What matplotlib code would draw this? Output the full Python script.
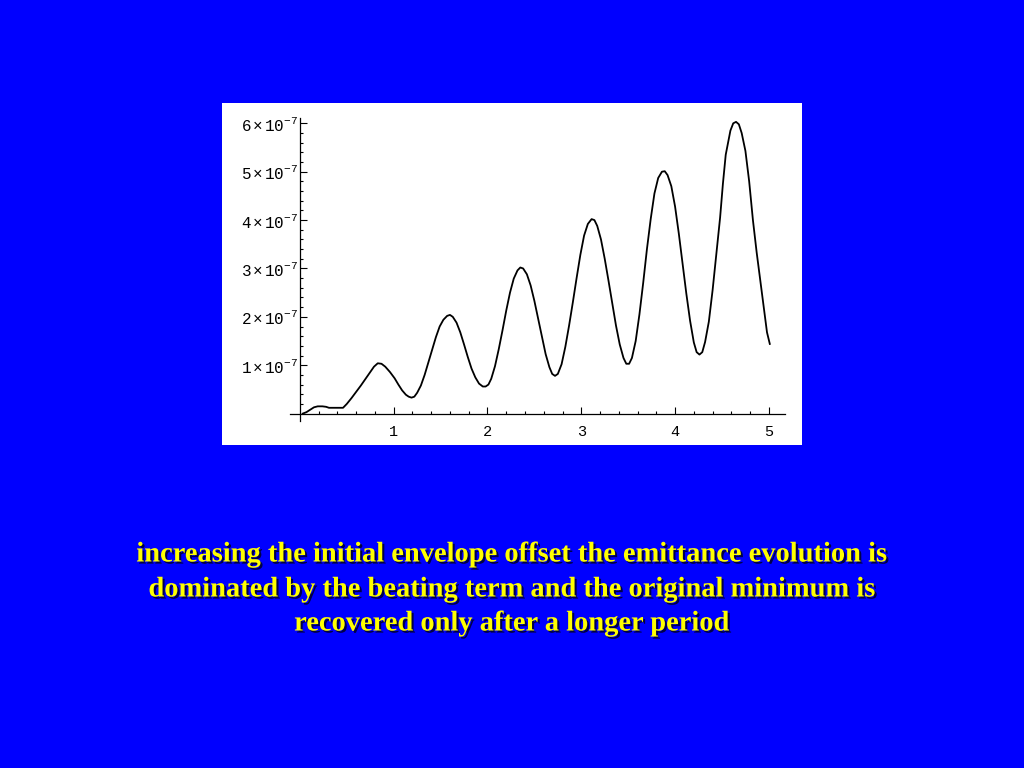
import matplotlib
matplotlib.use("Agg")
import matplotlib.pyplot as plt
import matplotlib.patheffects as pe
from matplotlib.patches import Rectangle
from matplotlib.ticker import FixedLocator, FuncFormatter

# emittance curve (y in units of 1e-7)
x = [0.03, 0.07, 0.11, 0.15, 0.19, 0.24, 0.28, 0.31, 0.46, 0.50, 0.55, 0.60,
     0.65, 0.70, 0.75, 0.79, 0.83, 0.87, 0.91, 0.96, 1.01, 1.05, 1.09, 1.13,
     1.16, 1.19, 1.22, 1.25, 1.29, 1.33, 1.37, 1.41, 1.45, 1.49, 1.53, 1.57,
     1.60, 1.63, 1.67, 1.71, 1.75, 1.79, 1.83, 1.87, 1.91, 1.95, 1.98, 2.01,
     2.04, 2.08, 2.12, 2.16, 2.20, 2.24, 2.28, 2.32, 2.35, 2.38, 2.42, 2.46,
     2.50, 2.54, 2.58, 2.62, 2.66, 2.69, 2.72, 2.75, 2.79, 2.83, 2.87, 2.91,
     2.95, 2.99, 3.03, 3.07, 3.11, 3.14, 3.17, 3.21, 3.25, 3.29, 3.33, 3.37,
     3.41, 3.45, 3.48, 3.51, 3.54, 3.58, 3.62, 3.66, 3.70, 3.74, 3.78, 3.82,
     3.86, 3.89, 3.92, 3.96, 4.00, 4.04, 4.08, 4.12, 4.16, 4.20, 4.23, 4.26,
     4.29, 4.32, 4.36, 4.40, 4.44, 4.48, 4.51, 4.54, 4.59, 4.62, 4.65, 4.68,
     4.71, 4.75, 4.79, 4.83, 4.87, 4.91, 4.95, 4.98, 5.01]
y_e7 = [0.00, 0.03, 0.08, 0.13, 0.15, 0.15, 0.14, 0.12, 0.12, 0.20, 0.32, 0.45,
        0.58, 0.72, 0.86, 0.97, 1.04, 1.03, 0.97, 0.86, 0.73, 0.60, 0.48, 0.39,
        0.35, 0.33, 0.35, 0.43, 0.58, 0.80, 1.06, 1.32, 1.58, 1.80, 1.94, 2.02,
        2.04, 2.00, 1.88, 1.68, 1.43, 1.17, 0.93, 0.75, 0.62, 0.56, 0.56, 0.60,
        0.72, 0.98, 1.33, 1.72, 2.13, 2.50, 2.79, 2.96, 3.02, 3.00, 2.88, 2.65,
        2.33, 1.96, 1.58, 1.23, 0.96, 0.82, 0.78, 0.82, 1.02, 1.38, 1.82, 2.30,
        2.80, 3.28, 3.68, 3.92, 4.02, 4.00, 3.88, 3.60, 3.20, 2.75, 2.28, 1.82,
        1.43, 1.15, 1.03, 1.03, 1.15, 1.50, 2.05, 2.70, 3.40, 4.02, 4.55, 4.87,
        5.00, 5.01, 4.93, 4.70, 4.28, 3.72, 3.10, 2.48, 1.92, 1.47, 1.27, 1.22,
        1.27, 1.48, 1.90, 2.55, 3.30, 4.05, 4.75, 5.35, 5.85, 6.00, 6.03, 5.98,
        5.80, 5.43, 4.80, 4.00, 3.33, 2.73, 2.13, 1.68, 1.44]
SCALE = 1e-7

xticks = [1, 2, 3, 4, 5]
yticks_e7 = [1, 2, 3, 4, 5, 6]

caption = [
    "increasing the initial envelope offset the emittance evolution is",
    "dominated by the beating term and the original minimum is",
    "recovered only after a longer period",
]

plt.rcParams["mathtext.fontset"] = "custom"
plt.rcParams["mathtext.rm"] = "Liberation Mono"
plt.rcParams["mathtext.it"] = "Liberation Mono"
plt.rcParams["mathtext.bf"] = "Liberation Mono:bold"

W, H = 1024, 768
fig = plt.figure(figsize=(W / 100, H / 100), dpi=100, facecolor="#0000ff")

# white picture panel
fig.add_artist(Rectangle((222 / W, 1 - 445 / H), 580 / W, 342 / H,
                         transform=fig.transFigure, facecolor="white",
                         edgecolor="none", zorder=0))

ax = fig.add_axes([290 / W, 1 - 421 / H, 495 / W, 303 / H])
ax.set_facecolor("none")
ax.plot(x, [v * SCALE for v in y_e7], color="black", lw=1.3,
        solid_joinstyle="round")

ax.set_xlim(-0.1055, 5.172)
ax.set_ylim(-0.153 * SCALE, 6.11 * SCALE)

for s in ("top", "right"):
    ax.spines[s].set_visible(False)
for s in ("left", "bottom"):
    ax.spines[s].set_position(("data", 0))
    ax.spines[s].set_linewidth(0.9)

ax.xaxis.set_major_locator(FixedLocator(xticks))
ax.xaxis.set_minor_locator(FixedLocator([i * 0.2 for i in range(1, 26)]))
ax.yaxis.set_major_locator(FixedLocator([v * SCALE for v in yticks_e7]))
ax.yaxis.set_minor_locator(FixedLocator([i * 0.2 * SCALE for i in range(1, 31)]))

ax.xaxis.set_major_formatter(FuncFormatter(lambda v, p: f"{v:g}"))
ax.yaxis.set_major_formatter(
    FuncFormatter(lambda v, p: r"$%d\times10^{-7}$" % round(v / SCALE)))

ax.tick_params(which="both", direction="in", width=0.8, colors="black")
ax.tick_params(which="major", length=5)
ax.tick_params(which="minor", length=2.5)
ax.tick_params(axis="x", which="major", pad=8, labelsize=11)
ax.tick_params(axis="y", which="major", pad=1.5, labelsize=11.5)
for lab in ax.get_xticklabels():
    lab.set_fontfamily("Liberation Mono")

shadow = [pe.SimplePatchShadow(offset=(1.5, -1.5), shadow_rgbFace="#000033",
                               alpha=0.9), pe.Normal()]
for line, yc in zip(caption, [555, 590, 624]):
    fig.text(0.5, 1 - yc / H, line, ha="center", va="center",
             family="Liberation Serif", weight="bold", fontsize=20.5,
             color="#ffff00", path_effects=shadow)

fig.savefig("out.png", dpi=100, facecolor=fig.get_facecolor())
